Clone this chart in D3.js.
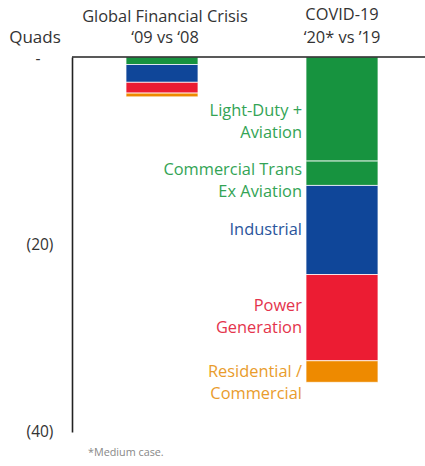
<!DOCTYPE html>
<html><head><meta charset="utf-8">
<script src="https://cdn.jsdelivr.net/npm/d3@7"></script>
<style>
html,body{margin:0;padding:0;background:#fff;}
svg{display:block;}
text{font-family:"Open Sans",Lato,sans-serif;}
</style></head>
<body>
<svg id="chart" width="425" height="466"></svg>
<script>
// ---- data ----
const periods = ["Global Financial Crisis|\u201809 vs \u201808", "COVID-19|\u201820* vs \u201919"];
const sectors = ["Light-Duty + Aviation", "Commercial Trans Ex Aviation", "Industrial", "Power Generation", "Residential / Commercial"];
const sectorLines = [["Light-Duty +","Aviation"],["Commercial Trans","Ex Aviation"],["Industrial"],["Power","Generation"],["Residential /","Commercial"]];
const gfcValues = [-0.8, 0, -1.9, -1.15, -0.4];
const covidValues = [-11.1, -2.6, -9.5, -9.2, -2.3];
const yTicks = [0, -20, -40];
const sectorColors = ["#17933f", "#17933f", "#0f4699", "#ec1c33", "#ee8a00"];
const labelColors = ["#33a455", "#33a455", "#2a559c", "#e4344c", "#e99c2c"];

// ---- scales ----
const svg = d3.select("#chart");
const y = d3.scaleLinear().domain([0, -40]).range([57, 432]);
const x = d3.scaleBand().domain(periods).range([72, 432]).paddingInner(0.6).paddingOuter(0.3);

const series = [gfcValues, covidValues];
series.forEach((vals, i) => {
  let cum = 0;
  const segs = vals.map((v, k) => { const s = {k, y0: cum, y1: cum + v}; cum += v; return s; }).filter(s => s.y1 !== s.y0);
  svg.append("g").selectAll("rect").data(segs).join("rect")
    .attr("x", x(periods[i]))
    .attr("width", x.bandwidth())
    .attr("y", d => y(d.y0))
    .attr("height", d => y(d.y1) - y(d.y0))
    .attr("fill", d => sectorColors[d.k])
    .attr("stroke", "#ffffff")
    .attr("stroke-opacity", 0.75)
    .attr("stroke-width", 1);
  if (i === 1) {
    const labelOffsets = [12, 7, 0, -1, 11];
    const lg = svg.append("g");
    segs.forEach(s => {
      const lines = sectorLines[s.k];
      const mid = (y(s.y0) + y(s.y1)) / 2 + labelOffsets[s.k];
      const t = lg.append("text")
        .attr("x", x(periods[i]) - 4)
        .attr("text-anchor", "end")
        .attr("fill", labelColors[s.k])
        .attr("font-size", 16.4);
      lines.forEach((ln, j) => {
        t.append("tspan").attr("x", x(periods[i]) - 4)
          .attr("y", mid - (lines.length - 1) * 11 + j * 22 + 5.5)
          .text(ln);
      });
    });
  }
});

// ---- axes ----
const yAxis = d3.axisLeft(y).tickValues(yTicks).tickSize(0)
  .tickFormat(d => d === 0 ? "-" : "(" + Math.abs(d) + ")");
const ag = svg.append("g").attr("transform", "translate(72,0)").call(yAxis);
ag.select(".domain").attr("stroke", "#222").attr("stroke-width", 1.6);
ag.selectAll(".tick text")
  .attr("x", -32).attr("text-anchor", "middle")
  .attr("font-family", "'Open Sans', Lato, sans-serif")
  .attr("font-size", 15.5).attr("fill", "#333");
ag.selectAll(".tick").filter(d => d === 0).select("text").attr("dy", "0.45em").attr("x", -34);

svg.append("line").attr("x1", 72).attr("x2", 425)
  .attr("y1", y(0)).attr("y2", y(0)).attr("stroke", "#222").attr("stroke-width", 1.6);

// ---- headers ----
periods.forEach((p, i) => {
  const [a, b] = p.split("|");
  const cx = x(p) + x.bandwidth() / 2 + (i === 0 ? 3 : 0);
  svg.append("text").attr("x", cx).attr("y", i === 0 ? 22 : 20).attr("text-anchor", "middle")
    .attr("font-size", 16.4).attr("fill", "#333").text(a);
  svg.append("text").attr("x", cx).attr("y", 43).attr("text-anchor", "middle")
    .attr("font-size", 16.4).attr("fill", "#333").text(b);
});
svg.append("text").attr("x", 35).attr("y", 43).attr("text-anchor", "middle")
  .attr("font-size", 17).attr("fill", "#333").text("Quads");
svg.append("text").attr("x", 88).attr("y", 456)
  .attr("font-size", 10.8).attr("fill", "#888").text("*Medium case.");
</script>
</body></html>
